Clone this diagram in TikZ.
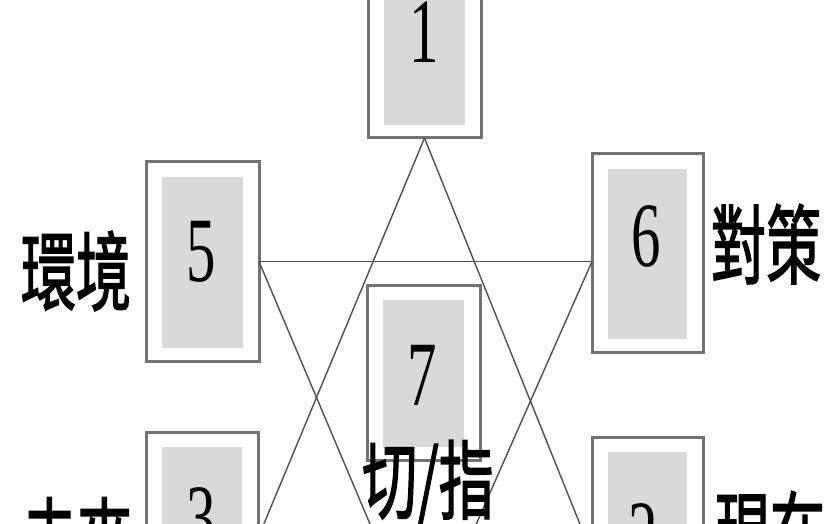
\documentclass[tikz,border=0pt]{standalone}
\usepackage{fontspec}
\usepackage{graphicx}
\setmainfont{Liberation Serif}
\newfontfamily\cjkfont{Noto Sans CJK TC}[FakeBold=2]
\newcommand{\squash}[1]{\scalebox{0.64}[1]{#1}}
\definecolor{cardline}{HTML}{737373}
\definecolor{cardfill}{HTML}{D9D9D9}
\definecolor{wire}{HTML}{505050}
\begin{document}
\begin{tikzpicture}[x=1pt,y=-1pt,
  card/.style={draw=cardline, line width=3pt, fill=white, minimum width=113pt,
    inner sep=0pt, outer sep=0pt,
    path picture={\fill[cardfill] ([shift={(16pt,-15pt)}]path picture bounding box.north west)
      rectangle ([shift={(-16pt,13pt)}]path picture bounding box.south east);}},
  digit/.style={inner sep=0pt, font=\fontsize{92}{92}\selectfont, text=black},
  word/.style={inner sep=0pt, font=\cjkfont\fontsize{86}{86}\selectfont, text=black},
  wire/.style={draw=wire, line width=1.4pt}]
\path[use as bounding box] (0,0) rectangle (839,524);
\fill[white] (0,0) rectangle (839,524);
\clip (0,0) rectangle (839,524);

% cards
\node[card, minimum height=199pt] (n1) at (424.5,38.5) {};
\node[card, minimum height=199pt] (n5) at (202.5,261.5) {};
\node[card, minimum width=111pt, minimum height=198pt] (n6) at (647.5,253) {};
\node[card, minimum height=175pt] (n7) at (423.5,372.5) {};
\node[card, minimum width=112pt, minimum height=212pt] (n3) at (202,538) {};
\node[card, minimum width=111pt, minimum height=234pt] (n2) at (647.5,554) {};

\coordinate (p4) at (422,647);

% connectors
\draw[wire] (n1.south) -- (n3.east);
\draw[wire] (n1.south) -- (n2.west);
\draw[wire] (n5.east) -- (n5.east -| n6.west);
\draw[wire] (n5.east) -- (p4);
\draw[wire] (n5.east -| n6.west) -- (p4);

% digits
\node[digit] (d1) at (424,32) {\squash{1}};
\node[digit] (d5) at (201,252) {\squash{5}};
\node[digit] (d6) at (646,236) {\squash{6}};
\node[digit] (d7) at (422,375) {\squash{7}};
\node[digit] (d3) at (201,518) {\squash{3}};
\node[digit] (d2) at (643,534) {\squash{2}};

% labels
\node[word] (w5) at (76,271) {\squash{環境}};
\node[word] (w6) at (766,244) {\squash{對策}};
\node[word] (w7) at (428,484) {\squash{切/指}};
\node[word] (w3) at (77,537) {\squash{未來}};
\node[word] (w2) at (770,531) {\squash{現在}};
\end{tikzpicture}
\end{document}
